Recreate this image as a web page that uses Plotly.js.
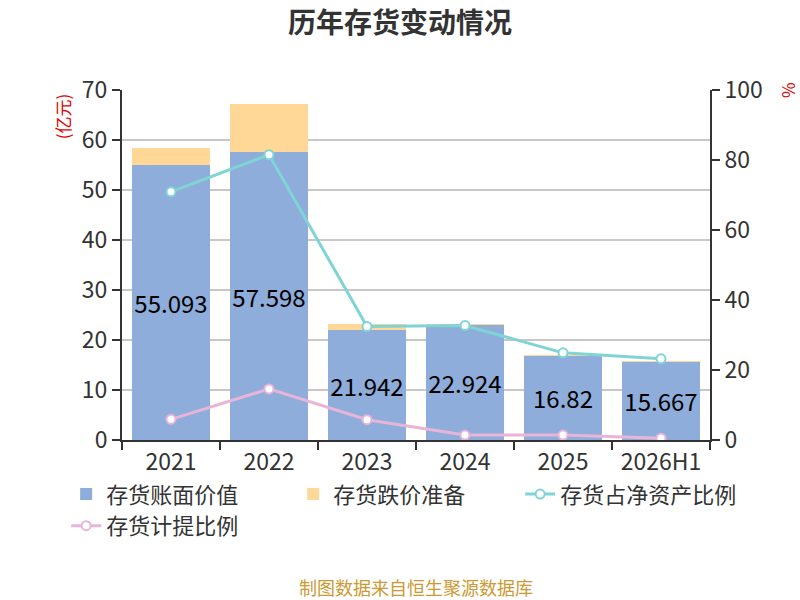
<!DOCTYPE html>
<html>
<head>
<meta charset="utf-8">
<script src="https://cdn.plot.ly/plotly-3.0.1.min.js"></script>
<style>body{margin:0;background:#fff}#chart{width:800px;height:600px}</style>
</head>
<body>
<div id="chart"></div>
<script>
var categories = ["2021", "2022", "2023", "2024", "2025", "2026H1"];
var bookValue = [55.093, 57.598, 21.942, 22.924, 16.82, 15.667];
var reserve = [3.4, 9.7, 1.3, 0.33, 0.24, 0.08];
var ratioNetAssets = [70.9, 81.5, 32.4, 32.7, 24.9, 23.2];
var ratioProvision = [5.9, 14.6, 5.8, 1.4, 1.4, 0.5];

var FONT = "'Noto Sans CJK SC', 'Noto Sans', sans-serif";

var traces = [
  {
    type: "bar", name: "存货账面价值", x: categories, y: bookValue,
    marker: {color: "#8EADDA"},
    text: bookValue.map(String), textposition: "inside", insidetextanchor: "middle",
    textangle: 0, constraintext: "none",
    textfont: {size: 24, color: "#000", family: FONT},
    hoverinfo: "none"
  },
  {
    type: "bar", name: "存货跌价准备", x: categories, y: reserve,
    marker: {color: "#FFD898"}, hoverinfo: "none"
  },
  {
    type: "scatter", mode: "lines+markers", name: "存货占净资产比例", x: categories, y: ratioNetAssets,
    yaxis: "y2", line: {color: "#80D4D6", width: 3},
    marker: {symbol: "circle", size: 9, color: "#fff", line: {color: "#80D4D6", width: 2}}
  },
  {
    type: "scatter", mode: "lines+markers", name: "存货计提比例", x: categories, y: ratioProvision,
    yaxis: "y2", line: {color: "#E8B5D8", width: 3},
    marker: {symbol: "circle", size: 9, color: "#fff", line: {color: "#E8B5D8", width: 2}}
  }
];

var layout = {
  width: 800, height: 600,
  margin: {l: 122, r: 90, t: 90, b: 160},
  paper_bgcolor: "#fff", plot_bgcolor: "#fff",
  font: {family: FONT, color: "#333", size: 22},
  barmode: "stack", bargap: 0.2,
  showlegend: true,
  title: {text: "<b>历年存货变动情况</b>", x: 0.5, xanchor: "center", y: 0.962, yanchor: "middle",
          font: {size: 28, color: "#333", family: FONT}},
  xaxis: {
    type: "category", tickson: "boundaries", ticks: "outside", ticklen: 8, tickwidth: 2, tickcolor: "#333",
    showline: true, linecolor: "#333", linewidth: 2, showgrid: false,
    tickfont: {size: 23, color: "#333"}
  },
  yaxis: {
    range: [0, 70], dtick: 10, ticks: "outside", ticklen: 8, tickwidth: 2, tickcolor: "#333",
    showline: true, linecolor: "#333", linewidth: 2,
    showgrid: true, gridcolor: "#C8C8C8", gridwidth: 2, zeroline: false,
    tickfont: {size: 23, color: "#333"}
  },
  yaxis2: {
    range: [0, 100], dtick: 20, overlaying: "y", side: "right",
    ticks: "outside", ticklen: 8, tickwidth: 2, tickcolor: "#333",
    showline: true, linecolor: "#333", linewidth: 2, showgrid: false, zeroline: false,
    tickfont: {size: 23, color: "#333"}
  },
  legend: {
    orientation: "h", x: -0.095, xanchor: "left", y: -0.095, yanchor: "top",
    font: {size: 22, color: "#333"}, entrywidth: 182, entrywidthmode: "pixels",
    traceorder: "normal", itemwidth: 30
  },
  annotations: [
    {xref: "paper", yref: "paper", x: -0.102, xanchor: "center", y: 0.925, yanchor: "middle",
     text: "(亿元)", showarrow: false, textangle: -90, font: {size: 17, color: "#E00000"}},
    {xref: "paper", yref: "paper", x: 1.131, xanchor: "center", y: 1.0, yanchor: "middle",
     text: "%", showarrow: false, textangle: -90, font: {size: 17, color: "#E00000"}},
    {xref: "paper", yref: "paper", x: 0.5, xanchor: "center", y: -0.42, yanchor: "middle",
     text: "制图数据来自恒生聚源数据库", showarrow: false, font: {size: 18, color: "#CC9933"}}
  ]
};

Plotly.newPlot("chart", traces, layout, {displayModeBar: false, staticPlot: true});
</script>
</body>
</html>
